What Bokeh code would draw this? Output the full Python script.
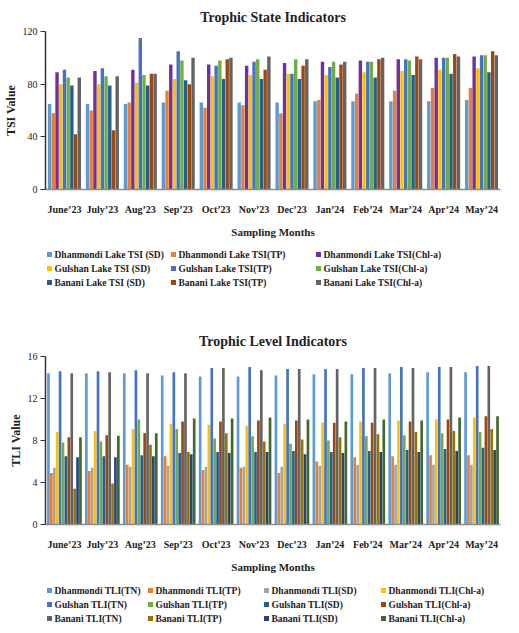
from bokeh.plotting import figure
from bokeh.models import FactorRange, Range1d, FixedTicker, ColumnDataSource
from bokeh.transform import dodge
from bokeh.core.properties import value
from bokeh.layouts import column
from bokeh.embed import file_html
from bokeh.resources import INLINE

months = ["June’23", "July’23", "Aug’23", "Sep’23", "Oct’23", "Nov’23",
          "Dec’23", "Jan’24", "Feb’24", "Mar’24", "Apr’24", "May’24"]

# ---- Trophic State Indicators (TSI) ----
tsi_names = ["Dhanmondi Lake TSI (SD)", "Dhanmondi Lake TSI(TP)", "Dhanmondi Lake TSI(Chl-a)",
             "Gulshan Lake TSI (SD)", "Gulshan Lake TSI(TP)", "Gulshan Lake TSI(Chl-a)",
             "Banani Lake TSI (SD)", "Banani Lake TSI(TP)", "Banani Lake TSI(Chl-a)"]
dh_sd = [65, 65, 65, 66, 66, 66, 66, 67, 67, 67, 67, 68]
dh_tp = [58, 60, 66, 75, 62, 64, 58, 68, 73, 75, 77, 77]
dh_chl = [89, 90, 91, 95, 95, 94, 96, 97, 98, 99, 100, 101]
gu_sd = [80, 80, 81, 84, 86, 87, 88, 87, 89, 90, 91, 92]
gu_tp = [91, 92, 115, 105, 94, 97, 88, 93, 97, 99, 100, 102]
gu_chl = [85, 86, 87, 98, 98, 99, 99, 97, 97, 98, 100, 102]
ba_sd = [79, 79, 79, 83, 84, 84, 84, 85, 85, 87, 88, 89]
ba_tp = [42, 45, 88, 80, 99, 91, 94, 95, 99, 101, 103, 105]
ba_chl = [85, 86, 88, 100, 100, 101, 99, 97, 100, 99, 101, 102]
tsi_series = [dh_sd, dh_tp, dh_chl, gu_sd, gu_tp, gu_chl, ba_sd, ba_tp, ba_chl]
tsi_colors = ["#5B9BD5", "#ED7D31", "#7030A0", "#FFC000", "#4472C4", "#70AD47",
              "#255E91", "#9E480E", "#636363"]
tsi_ticks = [0, 40, 80, 120]

# ---- Trophic Level Indicators (TLI) ----
tli_names = ["Dhanmondi TLI(TN)", "Dhanmondi TLI(TP)", "Dhanmondi TLI(SD)", "Dhanmondi TLI(Chl-a)",
             "Gulshan TLI(TN)", "Gulshan TLI(TP)", "Gulshan TLI(SD)", "Gulshan TLI(Chl-a)",
             "Banani TLI(TN)", "Banani TLI(TP)", "Banani TLI(SD)", "Banani TLI(Chl-a)"]
d_tn = [14.4, 14.4, 14.4, 14.2, 14.1, 14.1, 14.2, 14.3, 14.3, 14.4, 14.5, 14.5]
d_tp = [4.9, 5.1, 5.7, 6.5, 5.2, 5.4, 4.9, 6.0, 6.4, 6.5, 6.6, 6.6]
d_sd = [5.4, 5.4, 5.5, 5.6, 5.5, 5.5, 5.5, 5.6, 5.7, 5.7, 5.7, 5.7]
d_chl = [8.8, 8.9, 9.1, 9.6, 9.5, 9.4, 9.6, 9.7, 9.8, 9.9, 10.0, 10.2]
g_tn = [14.6, 14.6, 14.7, 14.5, 14.9, 15.0, 14.8, 14.8, 14.9, 15.0, 15.0, 15.1]
g_tp = [7.8, 7.9, 10.0, 9.1, 8.2, 8.4, 7.7, 8.0, 8.4, 8.5, 8.7, 8.8]
g_sd = [6.5, 6.5, 6.6, 6.8, 6.9, 6.9, 7.0, 6.9, 7.0, 7.1, 7.2, 7.3]
g_chl = [8.3, 8.5, 8.7, 9.8, 9.8, 9.9, 9.9, 9.7, 9.7, 9.8, 10.0, 10.3]
b_tn = [14.4, 14.5, 14.4, 14.4, 14.9, 14.7, 14.8, 14.8, 14.9, 14.9, 15.0, 15.1]
b_tp = [3.4, 3.9, 7.6, 6.9, 8.7, 7.9, 8.1, 8.3, 8.6, 8.8, 8.9, 9.1]
b_sd = [6.4, 6.4, 6.5, 6.7, 6.8, 6.9, 6.7, 6.8, 6.9, 6.9, 7.0, 7.1]
b_chl = [8.3, 8.45, 8.7, 10.1, 10.1, 10.2, 10.0, 9.8, 10.0, 9.9, 10.2, 10.3]
tli_series = [d_tn, d_tp, d_sd, d_chl, g_tn, g_tp, g_sd, g_chl, b_tn, b_tp, b_sd, b_chl]
tli_colors = ["#5B9BD5", "#ED7D31", "#A5A5A5", "#FFC000", "#4472C4", "#70AD47",
              "#255E91", "#9E480E", "#636363", "#997300", "#264478", "#43682B"]
tli_ticks = [0, 4, 8, 12, 16]

FONT = "Liberation Serif"
INK = "#222222"
W = 519
BL, BR = 45, 19          # common left/right borders (frames aligned by the column)


def make_chart(title, ylabel, series, colors, ticks, ymax, height, top, bottom,
               group_fill, title_standoff):
    src = {"month": months}
    for i, s in enumerate(series):
        src[f"s{i}"] = s
    source = ColumnDataSource(src)
    p = figure(width=W, height=height,
               x_range=FactorRange(*months), y_range=Range1d(0, ymax),
               output_backend="svg", toolbar_location=None,
               min_border_left=BL, min_border_right=BR,
               min_border_top=top, min_border_bottom=bottom)
    n = len(series)
    w = group_fill / n
    for i in range(n):
        off = (i - (n - 1) / 2) * w
        p.vbar(x=dodge("month", off, range=p.x_range), top=f"s{i}", width=w * 0.92,
               source=source, fill_color=colors[i], line_color=None)

    p.title.text = title
    p.title.align = "center"
    p.title.text_font = FONT
    p.title.text_font_size = "14px"
    p.title.text_font_style = "bold"
    p.title.text_color = INK
    p.title.standoff = title_standoff

    p.xgrid.grid_line_color = None
    p.ygrid.grid_line_color = None
    p.outline_line_color = None

    xa = p.xaxis[0]
    xa.axis_label = "Sampling Months"
    xa.axis_label_text_font = FONT
    xa.axis_label_text_font_size = "11px"
    xa.axis_label_text_font_style = "bold"
    xa.axis_label_text_color = INK
    xa.axis_label_standoff = 8
    xa.major_label_text_font = FONT
    xa.major_label_text_font_size = "10px"
    xa.major_label_text_font_style = "bold"
    xa.major_label_text_color = INK
    xa.major_label_standoff = 8
    xa.major_tick_line_color = None
    xa.minor_tick_line_color = None
    xa.axis_line_color = "#8c8c8c"
    xa.axis_line_width = 1.5

    ya = p.yaxis[0]
    ya.ticker = FixedTicker(ticks=ticks)
    ya.axis_label = ylabel
    ya.axis_label_text_font = FONT
    ya.axis_label_text_font_size = "12px"
    ya.axis_label_text_font_style = "bold"
    ya.axis_label_text_color = INK
    ya.axis_label_standoff = 2
    ya.major_label_text_font = FONT
    ya.major_label_text_font_size = "10px"
    ya.major_label_text_color = INK
    ya.major_label_standoff = 3
    ya.major_tick_out = 5
    ya.major_tick_in = 0
    ya.minor_tick_line_color = None
    ya.axis_line_color = "#333333"
    ya.major_tick_line_color = "#333333"
    ya.axis_line_width = 1.5
    return p


def make_legend(names, colors, height, col_x, row_y, font_size):
    # x/y of this figure are page pixels: the frame spans BL..W-BR horizontally
    lp = figure(width=W, height=height, x_range=Range1d(BL, W - BR), y_range=Range1d(height, 0),
                output_backend="svg", toolbar_location=None,
                min_border_left=BL, min_border_right=BR,
                min_border_top=0, min_border_bottom=0)
    lp.axis.visible = False
    lp.grid.visible = False
    lp.outline_line_color = None
    ncol = len(col_x)
    xs = [col_x[i % ncol] for i in range(len(names))]
    ys = [row_y[i // ncol] for i in range(len(names))]
    src = ColumnDataSource(dict(x=xs, y=ys, tx=[x + 5 for x in xs], name=names, color=colors))
    lp.scatter("x", "y", source=src, marker="square", size=5, fill_color="color", line_color=None)
    lp.text("tx", "y", text="name", source=src, text_font=value(FONT),
            text_font_size=font_size, text_font_style="bold", text_color=INK,
            text_baseline="middle", text_align="left")
    return lp


p1 = make_chart("Trophic State Indicators", "TSI Value", tsi_series, tsi_colors,
                tsi_ticks, 120, 240, 31, 50, 0.88, 14)
l1 = make_legend(tsi_names, tsi_colors, 65, [49, 173, 318], [14, 28, 42], "9.5px")
p2 = make_chart("Trophic Level Indicators", "TLI Value", tli_names and tli_series, tli_colors,
                tli_ticks, 16, 270, 51, 50, 0.92, 16)
l2 = make_legend(tli_names, tli_colors, 58, [49, 150, 266, 383], [15, 29, 43], "9.5px")

layout = column(p1, l1, p2, l2, spacing=0)
open("out.html", "w").write(file_html(layout, INLINE))
